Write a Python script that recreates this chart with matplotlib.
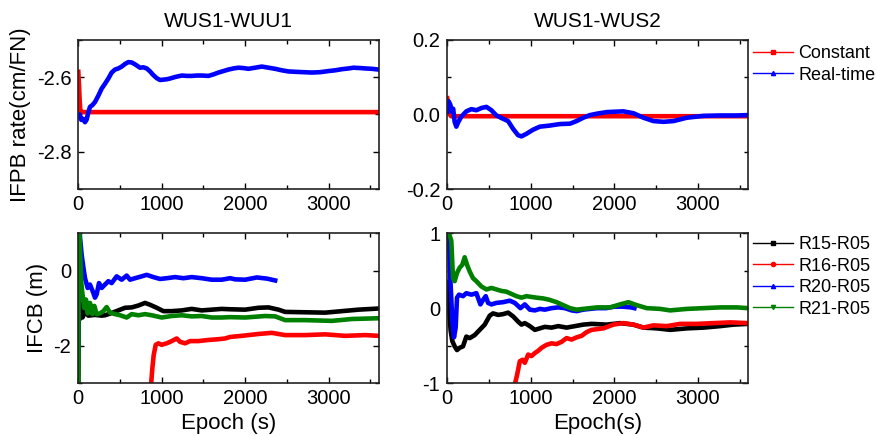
import matplotlib
matplotlib.use("Agg")
import matplotlib.pyplot as plt
from matplotlib.lines import Line2D
from matplotlib.ticker import FixedLocator, FormatStrFormatter

plt.rcParams['font.family'] = ['Liberation Sans', 'DejaVu Sans']
plt.rcParams['axes.unicode_minus'] = False

# ---------------- data ----------------
titles = ["WUS1-WUU1", "WUS1-WUS2"]
ifpb_labels = ["Constant", "Real-time"]
ifcb_labels = ["R15-R05", "R16-R05", "R20-R05", "R21-R05"]

# IFPB WUS1-WUU1
wuu1_const_t = [0, 8, 16, 24, 40, 3600]
wuu1_const_v = [-2.586, -2.62, -2.66, -2.69, -2.694, -2.694]
wuu1_rt_t = [0, 16, 36, 56, 80, 100, 120, 140, 170, 200, 240, 280, 320, 360, 400, 440, 480, 520, 560, 600,
             640, 680, 740, 780, 820, 860, 900, 940, 980, 1020, 1060, 1100, 1160, 1240, 1300, 1360, 1420, 1480,
             1560, 1620, 1680, 1740, 1800, 1860, 1920, 1980, 2040, 2120, 2200, 2280, 2360, 2440, 2520, 2600,
             2700, 2800, 2900, 3000, 3080, 3160, 3240, 3300, 3380, 3440, 3520, 3600]
wuu1_rt_v = [-2.706, -2.700, -2.715, -2.712, -2.721, -2.714, -2.695, -2.680, -2.675, -2.667, -2.650, -2.631,
             -2.618, -2.604, -2.588, -2.580, -2.577, -2.572, -2.565, -2.560, -2.561, -2.566, -2.575, -2.574,
             -2.577, -2.585, -2.595, -2.603, -2.608, -2.607, -2.606, -2.604, -2.600, -2.596, -2.597, -2.597,
             -2.596, -2.596, -2.597, -2.593, -2.588, -2.584, -2.580, -2.577, -2.575, -2.576, -2.578, -2.575,
             -2.572, -2.575, -2.578, -2.582, -2.585, -2.586, -2.587, -2.588, -2.587, -2.584, -2.582, -2.579,
             -2.577, -2.575, -2.576, -2.577, -2.578, -2.580]

# IFPB WUS1-WUS2
wus2_const_t = [0, 10, 20, 30, 45, 3600]
wus2_const_v = [0.043, 0.03, 0.015, 0.0, -0.005, -0.005]
wus2_rt_t = [0, 16, 36, 56, 70, 88, 108, 128, 168, 228, 288, 348, 408, 468, 528, 588, 668, 728, 788, 848,
             888, 948, 1028, 1108, 1228, 1348, 1468, 1548, 1628, 1708, 1796, 1908, 2000, 2108, 2228, 2348,
             2468, 2588, 2708, 2868, 3068, 3268, 3468, 3600]
wus2_rt_v = [0.007, 0.035, 0.026, 0.007, 0.015, -0.020, -0.033, -0.022, -0.006, 0.008, 0.014, 0.011, 0.017,
             0.020, 0.011, -0.003, -0.012, -0.018, -0.039, -0.056, -0.059, -0.052, -0.041, -0.033, -0.030,
             -0.026, -0.025, -0.018, -0.009, -0.002, 0.002, 0.006, 0.007, 0.008, 0.003, -0.009, -0.018,
             -0.020, -0.018, -0.009, -0.004, -0.003, -0.003, -0.002]

# IFCB WUS1-WUU1
bl_r15_t = [0, 6, 15, 30, 50, 80, 120, 200, 280, 320, 400, 480, 560, 640, 720, 800, 860, 940, 1020, 1120,
            1240, 1360, 1480, 1600, 1720, 1820, 2000, 2160, 2280, 2400, 2480, 2720, 2960, 3160, 3360, 3600]
bl_r15_v = [-3.5, -0.6, -1.3, -0.9, -1.25, -1.1, -1.2, -1.18, -1.2, -1.19, -1.13, -1.06, -0.99, -0.98, -0.93,
            -0.86, -0.91, -0.99, -1.08, -1.08, -1.06, -1.02, -1.06, -1.04, -1.02, -1.03, -1.04, -0.99, -0.98,
            -1.04, -1.10, -1.11, -1.12, -1.08, -1.04, -1.01]
bl_r16_t = [872, 888, 904, 928, 960, 1000, 1060, 1120, 1180, 1220, 1280, 1340, 1440, 1560, 1680, 1760, 1820,
            1960, 2160, 2320, 2480, 2720, 2960, 3200, 3440, 3600]
bl_r16_v = [-3.05, -2.6, -2.25, -1.98, -1.94, -1.98, -1.94, -1.88, -1.81, -1.90, -1.94, -1.88, -1.88, -1.85,
            -1.83, -1.81, -1.77, -1.74, -1.69, -1.66, -1.72, -1.72, -1.70, -1.74, -1.72, -1.74]
bl_r20_t = [0, 6, 20, 40, 60, 80, 112, 140, 180, 200, 220, 248, 280, 320, 360, 400, 460, 520, 580, 620, 680,
            760, 820, 900, 980, 1060, 1160, 1260, 1360, 1480, 1600, 1720, 1820, 1880, 2000, 2140, 2260, 2360]
bl_r20_v = [-2.1, 1.5, 0.9, 0.43, 0.1, -0.195, -0.46, -0.37, -0.59, -0.72, -0.63, -0.33, -0.46, -0.37, -0.28,
            -0.33, -0.15, -0.24, -0.13, -0.24, -0.20, -0.15, -0.11, -0.17, -0.22, -0.20, -0.17, -0.20, -0.17,
            -0.20, -0.24, -0.24, -0.20, -0.23, -0.24, -0.18, -0.21, -0.26]
bl_r21_t = [0, 6, 20, 35, 48, 72, 92, 112, 140, 168, 192, 220, 260, 300, 340, 380, 440, 500, 580, 640, 720,
            800, 880, 1000, 1120, 1240, 1360, 1480, 1600, 1720, 1820, 2000, 2240, 2360, 2480, 2720, 3040,
            3280, 3600]
bl_r21_v = [-3.5, 1.5, 0.6, -0.3, -0.59, -1.0, -0.77, -1.14, -0.86, -1.16, -0.94, -1.16, -1.14, -1.08, -0.97,
            -1.12, -1.16, -1.19, -1.25, -1.16, -1.19, -1.16, -1.19, -1.25, -1.21, -1.19, -1.22, -1.21, -1.25,
            -1.25, -1.24, -1.25, -1.21, -1.22, -1.32, -1.32, -1.34, -1.29, -1.27]

# IFCB WUS1-WUS2
br_r15_t = [0, 20, 40, 60, 88, 116, 148, 188, 228, 268, 328, 388, 448, 508, 548, 608, 668, 728, 788, 848,
            888, 928, 988, 1048, 1108, 1168, 1248, 1328, 1428, 1528, 1628, 1728, 1908, 2068, 2228, 2348,
            2508, 2668, 2868, 3068, 3268, 3428, 3600]
br_r15_v = [0.35, 0.0, -0.3, -0.44, -0.51, -0.56, -0.53, -0.51, -0.38, -0.40, -0.36, -0.29, -0.22, -0.10,
            -0.07, -0.09, -0.08, -0.06, -0.11, -0.18, -0.22, -0.20, -0.24, -0.29, -0.27, -0.25, -0.26, -0.24,
            -0.26, -0.24, -0.22, -0.21, -0.22, -0.20, -0.22, -0.26, -0.27, -0.29, -0.27, -0.26, -0.24,
            -0.22, -0.21]
br_r16_t = [808, 836, 868, 900, 928, 968, 1008, 1048, 1088, 1128, 1188, 1248, 1308, 1368, 1428, 1488, 1548,
            1608, 1668, 1728, 1868, 1988, 2108, 2228, 2348, 2468, 2628, 2788, 2988, 3188, 3388, 3600]
br_r16_v = [-1.02, -0.89, -0.71, -0.69, -0.73, -0.62, -0.64, -0.60, -0.57, -0.53, -0.49, -0.47, -0.48,
            -0.45, -0.40, -0.42, -0.39, -0.37, -0.32, -0.29, -0.27, -0.22, -0.20, -0.22, -0.26, -0.23,
            -0.24, -0.21, -0.21, -0.20, -0.19, -0.20]
br_r20_t = [0, 20, 36, 60, 80, 100, 116, 140, 188, 228, 288, 348, 396, 428, 460, 488, 528, 588, 668, 748,
            808, 876, 928, 988, 1048, 1108, 1168, 1248, 1328, 1408, 1488, 1548, 1628, 1708, 1796, 1900,
            2000, 2100, 2200, 2240]
br_r20_v = [1.5, 0.9, 0.40, -0.17, -0.39, -0.26, 0.14, 0.18, 0.16, 0.20, 0.18, 0.20, 0.05, 0.11, 0.16,
            0.07, 0.05, 0.07, 0.08, 0.10, 0.07, 0.00, 0.05, -0.02, -0.03, -0.01, -0.02, 0.00, 0.01, 0.00,
            -0.03, -0.04, -0.02, -0.01, 0.00, 0.00, 0.02, 0.02, 0.01, 0.00]
br_r21_t = [0, 20, 48, 68, 88, 116, 148, 180, 208, 236, 268, 308, 348, 408, 468, 528, 588, 648, 708, 768,
            828, 888, 948, 1008, 1068, 1148, 1228, 1308, 1388, 1468, 1548, 1628, 1708, 1796, 1948, 2068,
            2168, 2268, 2388, 2548, 2668, 2868, 3068, 3268, 3468, 3600]
br_r21_v = [1.5, 1.0, 0.9, 0.40, 0.36, 0.47, 0.54, 0.58, 0.68, 0.58, 0.49, 0.40, 0.36, 0.29, 0.25, 0.27,
            0.25, 0.23, 0.22, 0.19, 0.16, 0.14, 0.16, 0.15, 0.14, 0.13, 0.11, 0.08, 0.04, 0.00, -0.02, -0.01,
            0.00, 0.01, 0.01, 0.05, 0.08, 0.04, 0.00, -0.01, -0.03, -0.01, 0.00, 0.01, 0.01, 0.00]

# ---------------- figure ----------------
W, H = 877, 436
fig = plt.figure(figsize=(W / 100, H / 100), dpi=100)

def px_axes(x0, y0, x1, y1):
    return fig.add_axes([x0 / W, 1 - y1 / H, (x1 - x0) / W, (y1 - y0) / H])

ax_tl = px_axes(78.3, 39.7, 378.6, 189.0)
ax_tr = px_axes(447.3, 39.7, 748.0, 189.0)
ax_bl = px_axes(78.3, 233.3, 378.6, 383.0)
ax_br = px_axes(447.3, 233.3, 748.0, 383.0)

LW = 3.3
RED, BLUE, GREEN, BLACK = "#ff0000", "#0000ff", "#008000", "#000000"

ax_tl.plot(wuu1_const_t, wuu1_const_v, color=RED, lw=LW)
ax_tl.plot(wuu1_rt_t, wuu1_rt_v, color=BLUE, lw=LW)
ax_tr.plot(wus2_const_t, wus2_const_v, color=RED, lw=LW)
ax_tr.plot(wus2_rt_t, wus2_rt_v, color=BLUE, lw=LW)

ax_bl.plot(bl_r15_t, bl_r15_v, color=BLACK, lw=LW)
ax_bl.plot(bl_r16_t, bl_r16_v, color=RED, lw=LW)
ax_bl.plot(bl_r20_t, bl_r20_v, color=BLUE, lw=LW)
ax_bl.plot(bl_r21_t, bl_r21_v, color=GREEN, lw=LW)

ax_br.plot(br_r15_t, br_r15_v, color=BLACK, lw=LW)
ax_br.plot(br_r16_t, br_r16_v, color=RED, lw=LW)
ax_br.plot(br_r20_t, br_r20_v, color=BLUE, lw=LW)
ax_br.plot(br_r21_t, br_r21_v, color=GREEN, lw=LW)

TICK_FS = 14.5
for ax in (ax_tl, ax_tr, ax_bl, ax_br):
    ax.set_xlim(0, 3600)
    ax.xaxis.set_major_locator(FixedLocator([0, 1000, 2000, 3000]))
    ax.xaxis.set_minor_locator(FixedLocator([500, 1500, 2500, 3500]))
    ax.tick_params(which='both', direction='in', top=True, right=True, width=1.0)
    ax.tick_params(which='major', length=4.5, labelsize=TICK_FS)
    ax.tick_params(which='minor', length=3)
    ax.tick_params(axis='y', pad=5)
    ax.tick_params(axis='x', pad=4)
    for s in ax.spines.values():
        s.set_linewidth(1.2)
        s.set_color("#222222")

ax_tl.set_ylim(-2.9, -2.5)
ax_tl.yaxis.set_major_locator(FixedLocator([-2.8, -2.6]))
ax_tl.yaxis.set_minor_locator(FixedLocator([-2.9, -2.7, -2.5]))
ax_tl.yaxis.set_major_formatter(FormatStrFormatter('%.1f'))

ax_tr.set_ylim(-0.2, 0.2)
ax_tr.yaxis.set_major_locator(FixedLocator([-0.2, 0.0, 0.2]))
ax_tr.yaxis.set_minor_locator(FixedLocator([-0.1, 0.1]))
ax_tr.yaxis.set_major_formatter(FormatStrFormatter('%.1f'))

ax_bl.set_ylim(-3, 1)
ax_bl.yaxis.set_major_locator(FixedLocator([-2, 0]))
ax_bl.yaxis.set_minor_locator(FixedLocator([-3, -1, 1]))
ax_bl.yaxis.set_major_formatter(FormatStrFormatter('%d'))

ax_br.set_ylim(-1, 1)
ax_br.yaxis.set_major_locator(FixedLocator([-1, 0, 1]))
ax_br.yaxis.set_minor_locator(FixedLocator([-0.5, 0.5]))
ax_br.yaxis.set_major_formatter(FormatStrFormatter('%d'))

ax_tl.set_title(titles[0], fontsize=15, pad=9)
ax_tr.set_title(titles[1], fontsize=15, pad=9)
ax_tl.set_ylabel("IFPB rate(cm/FN)", fontsize=16, labelpad=4)
ax_bl.set_ylabel("IFCB (m)", fontsize=16, labelpad=4)
ax_bl.set_xlabel("Epoch (s)", fontsize=16, labelpad=4)
ax_br.set_xlabel("Epoch(s)", fontsize=16, labelpad=4)

# legends
h_top = [Line2D([], [], color=RED, lw=1, marker='s', ms=3),
         Line2D([], [], color=BLUE, lw=1, marker='^', ms=3)]
fig.legend(h_top, ifpb_labels, loc='upper left', bbox_to_anchor=(753 / W, 1 - 45 / H),
           frameon=False, fontsize=13, borderpad=0, borderaxespad=0, handlelength=2.2,
           handletextpad=0.3, labelspacing=0.25)
h_bot = [Line2D([], [], color=BLACK, lw=1, marker='s', ms=3),
         Line2D([], [], color=RED, lw=1, marker='o', ms=3),
         Line2D([], [], color=BLUE, lw=1, marker='^', ms=3),
         Line2D([], [], color=GREEN, lw=1, marker='v', ms=3)]
fig.legend(h_bot, ifcb_labels, loc='upper left', bbox_to_anchor=(753 / W, 1 - 236 / H),
           frameon=False, fontsize=13, borderpad=0, borderaxespad=0, handlelength=2.2,
           handletextpad=0.3, labelspacing=0.25)

fig.savefig("out.png", dpi=100)
